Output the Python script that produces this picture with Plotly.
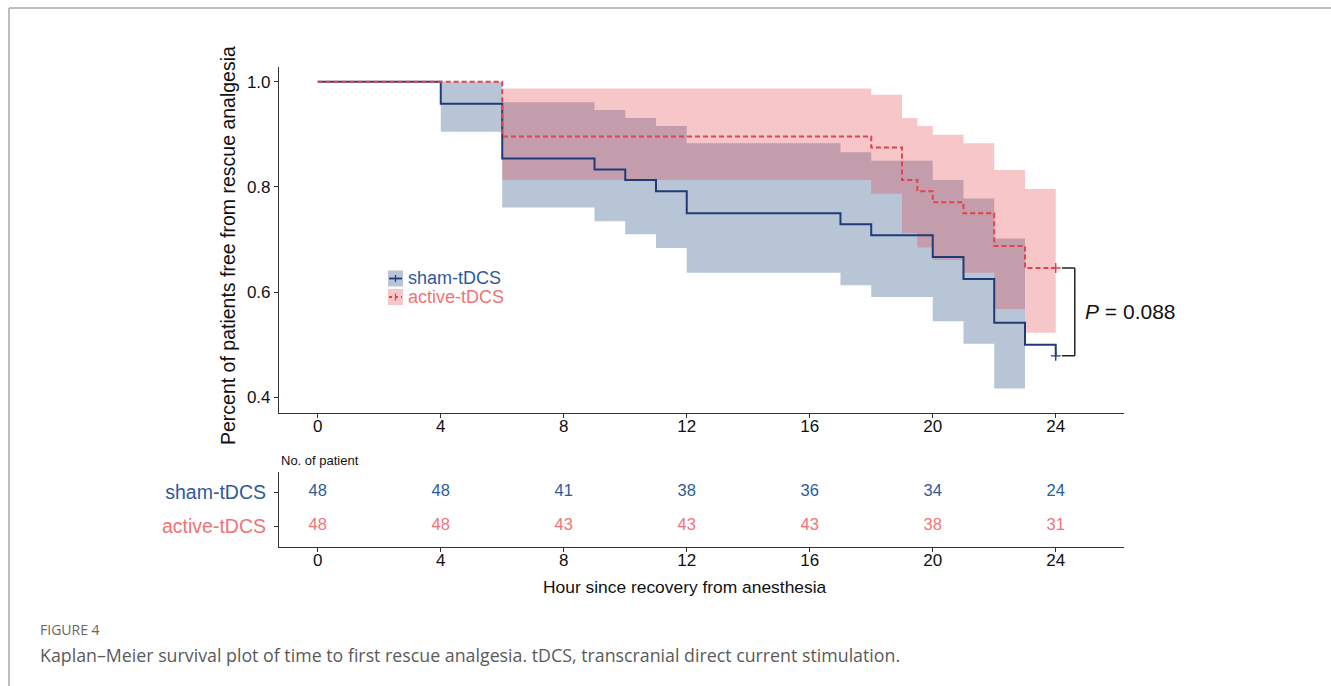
import plotly.graph_objects as go

W, H = 1331, 686

# ---------------- data ----------------
groups = ["sham-tDCS", "active-tDCS"]

sham_times = [0, 4, 6, 9, 10, 11, 12, 17, 18, 20, 21, 22, 23, 24]
sham_surv = [1.0, 0.958, 0.854, 0.833, 0.813, 0.792, 0.750, 0.729, 0.708, 0.667, 0.625, 0.542, 0.500, 0.479]

active_times = [0, 6, 18, 19, 19.5, 20, 21, 22, 23, 24]
active_surv = [1.0, 0.896, 0.875, 0.813, 0.792, 0.771, 0.750, 0.688, 0.646, 0.646]

sham_ci_start = [4, 6, 9, 10, 11, 12, 17, 18, 20, 21, 22]
sham_ci_end = [6, 9, 10, 11, 12, 17, 18, 20, 21, 22, 23]
sham_ci_upper = [1.0, 0.961, 0.946, 0.931, 0.916, 0.883, 0.866, 0.850, 0.813, 0.778, 0.702]
sham_ci_lower = [0.905, 0.761, 0.735, 0.710, 0.684, 0.637, 0.613, 0.591, 0.545, 0.502, 0.417]

active_ci_start = [6, 18, 19, 19.5, 20, 21, 22, 23]
active_ci_end = [18, 19, 19.5, 20, 21, 22, 23, 24]
active_ci_upper = [0.987, 0.975, 0.931, 0.916, 0.899, 0.883, 0.832, 0.796]
active_ci_lower = [0.813, 0.787, 0.712, 0.685, 0.661, 0.637, 0.568, 0.523]

censor_time = [24]
sham_censor = [0.479]
active_censor = [0.646]

risk_times = [0, 4, 8, 12, 16, 20, 24]
sham_risk = [48, 48, 41, 38, 36, 34, 24]
active_risk = [48, 48, 43, 43, 43, 38, 31]

x_ticks = [0, 4, 8, 12, 16, 20, 24]
y_ticks = [0.4, 0.6, 0.8, 1.0]
y_ticktext = ["0.4", "0.6", "0.8", "1.0"]
p_value = "0.088"

# ---------------- styles ----------------
SHAM_LINE = "#1F3B78"
ACT_LINE = "#E3434D"
SHAM_FILL = "rgba(18,62,118,0.30)"
ACT_FILL = "rgba(225,65,72,0.30)"
SHAM_TXT = "#2D5A9B"
ACT_TXT = "#F07377"
AX = "#333333"
FONT = "Liberation Sans, Arial, sans-serif"


def band_xy(starts, ends, lo, hi):
    xs, ys = [], []
    for s, e, h in zip(starts, ends, hi):
        xs += [s, e]
        ys += [h, h]
    for s, e, l in reversed(list(zip(starts, ends, lo))):
        xs += [e, s]
        ys += [l, l]
    xs.append(xs[0])
    ys.append(ys[0])
    return xs, ys


fig = go.Figure()

bx, by = band_xy(sham_ci_start, sham_ci_end, sham_ci_lower, sham_ci_upper)
fig.add_trace(go.Scatter(x=bx, y=by, fill="toself", fillcolor=SHAM_FILL,
                         line=dict(width=0), mode="lines", hoverinfo="skip",
                         showlegend=False))
bx, by = band_xy(active_ci_start, active_ci_end, active_ci_lower, active_ci_upper)
fig.add_trace(go.Scatter(x=bx, y=by, fill="toself", fillcolor=ACT_FILL,
                         line=dict(width=0), mode="lines", hoverinfo="skip",
                         showlegend=False))

fig.add_trace(go.Scatter(x=sham_times, y=sham_surv, mode="lines",
                         line=dict(shape="hv", color=SHAM_LINE, width=2),
                         name=groups[0], showlegend=False))
fig.add_trace(go.Scatter(x=active_times, y=active_surv, mode="lines",
                         line=dict(shape="hv", color=ACT_LINE, width=2, dash="5px,3px"),
                         name=groups[1], showlegend=False))

fig.add_trace(go.Scatter(x=censor_time, y=sham_censor, mode="markers",
                         marker=dict(symbol="cross-thin", size=7,
                                     line=dict(color=SHAM_LINE, width=1.4)),
                         showlegend=False))
fig.add_trace(go.Scatter(x=censor_time, y=active_censor, mode="markers",
                         marker=dict(symbol="cross-thin", size=7,
                                     line=dict(color=ACT_LINE, width=1.4)),
                         showlegend=False))

# risk table
fig.add_trace(go.Scatter(x=risk_times, y=[2] * len(risk_times), xaxis="x2", yaxis="y2",
                         mode="text", text=[str(v) for v in sham_risk],
                         textfont=dict(color=SHAM_TXT, size=16.5, family=FONT),
                         showlegend=False, hoverinfo="skip"))
fig.add_trace(go.Scatter(x=risk_times, y=[1] * len(risk_times), xaxis="x2", yaxis="y2",
                         mode="text", text=[str(v) for v in active_risk],
                         textfont=dict(color=ACT_TXT, size=16.5, family=FONT),
                         showlegend=False, hoverinfo="skip"))

XDOM = [279 / W, 1124.3 / W]
XRANGE = [-1.26, 26.23]
axis_common = dict(showline=True, linecolor=AX, linewidth=1.1, ticks="outside",
                   ticklen=4, tickcolor=AX, tickwidth=1.1, showgrid=False,
                   zeroline=False, tickfont=dict(size=17, color="#111", family=FONT))

shapes = []
annotations = []

# p-value bracket
bxr, bxl = 24.62, 24.2
shapes.append(dict(type="line", xref="x", yref="y", x0=bxr, x1=bxr,
                   y0=sham_censor[0], y1=active_censor[0], line=dict(color="#222", width=1.5)))
shapes.append(dict(type="line", xref="x", yref="y", x0=bxl, x1=bxr,
                   y0=sham_censor[0], y1=sham_censor[0], line=dict(color="#222", width=1.5)))
shapes.append(dict(type="line", xref="x", yref="y", x0=bxl, x1=bxr,
                   y0=active_censor[0], y1=active_censor[0], line=dict(color="#222", width=1.5)))
annotations.append(dict(xref="x", yref="y", x=24.9,
                        y=(sham_censor[0] + active_censor[0]) / 2,
                        text="<i>P</i> = " + p_value, showarrow=False, xanchor="left",
                        yanchor="middle", font=dict(size=21, color="#111", family=FONT)))

# legend (manual keys)
leg = [(groups[0], SHAM_FILL, SHAM_LINE, SHAM_TXT, "solid", 278.5),
       (groups[1], ACT_FILL, ACT_LINE, ACT_TXT, "dot", 297)]
for name, fc, lc, tc, dash, yc in leg:
    x0, x1 = 388, 403
    shapes.append(dict(type="rect", xref="paper", yref="paper",
                       x0=x0 / W, x1=x1 / W, y0=1 - (yc + 8) / H, y1=1 - (yc - 8) / H,
                       fillcolor=fc, line=dict(width=0)))
    shapes.append(dict(type="line", xref="paper", yref="paper",
                       x0=(x0 + 1) / W, x1=(x1 - 1) / W, y0=1 - yc / H, y1=1 - yc / H,
                       line=dict(color=lc, width=1.8, dash=dash)))
    shapes.append(dict(type="line", xref="paper", yref="paper",
                       x0=(x0 + x1) / 2 / W, x1=(x0 + x1) / 2 / W,
                       y0=1 - (yc + 3.5) / H, y1=1 - (yc - 3.5) / H,
                       line=dict(color=lc, width=1.2)))
    annotations.append(dict(xref="paper", yref="paper", x=406 / W, y=1 - yc / H,
                            text=name, showarrow=False, xanchor="left", yanchor="middle",
                            font=dict(size=18, color=tc, family=FONT)))

# y axis title
annotations.append(dict(xref="paper", yref="paper", x=228 / W, y=1 - 246 / H,
                        text="Percent of patients free from rescue analgesia",
                        textangle=-90, showarrow=False, xanchor="center", yanchor="middle",
                        font=dict(size=19.5, color="#111", family=FONT)))

# x axis title (below risk table)
annotations.append(dict(xref="paper", yref="paper", x=684.5 / W, y=1 - 587 / H,
                        text="Hour since recovery from anesthesia", showarrow=False,
                        xanchor="center", yanchor="middle",
                        font=dict(size=17.4, color="#111", family=FONT)))

# risk table header
annotations.append(dict(xref="paper", yref="paper", x=279 / W, y=1 - 460 / H,
                        text="No. of patient", showarrow=False, xanchor="left",
                        yanchor="middle", font=dict(size=13, color="#111", family=FONT)))

# caption
annotations.append(dict(xref="paper", yref="paper", x=38 / W, y=1 - 629 / H,
                        text="FIGURE 4", showarrow=False, xanchor="left", yanchor="middle",
                        font=dict(size=14, color="#666", family="Open Sans, sans-serif")))
annotations.append(dict(xref="paper", yref="paper", x=38 / W, y=1 - 655 / H,
                        text="Kaplan\u2013Meier survival plot of time to first rescue analgesia. "
                             "tDCS, transcranial direct current stimulation.",
                        showarrow=False, xanchor="left", yanchor="middle",
                        font=dict(size=17.8, color="#5A5A5A", family="Open Sans, sans-serif")))

# page frame
shapes.append(dict(type="line", xref="paper", yref="paper", x0=9 / W, x1=1,
                   y0=1 - 8 / H, y1=1 - 8 / H, line=dict(color="#A8A8A8", width=1.5)))
shapes.append(dict(type="line", xref="paper", yref="paper", x0=9 / W, x1=9 / W,
                   y0=0, y1=1 - 8 / H, line=dict(color="#A8A8A8", width=1.5)))

fig.update_layout(
    width=W, height=H, autosize=False,
    margin=dict(l=0, r=0, t=0, b=0),
    paper_bgcolor="white", plot_bgcolor="white",
    font=dict(family=FONT, color="#111"),
    showlegend=False,
    xaxis=dict(domain=XDOM, range=XRANGE, tickvals=x_ticks, anchor="y",
               ticklabelstandoff=-6, **axis_common),
    yaxis=dict(domain=[1 - 412.7 / H, 1 - 66.7 / H], range=[0.371, 1.0285],
               tickvals=y_ticks, ticktext=y_ticktext, anchor="x", **axis_common),
    xaxis2=dict(domain=XDOM, range=XRANGE, tickvals=x_ticks, anchor="y2",
                ticklabelstandoff=-6, **axis_common),
    yaxis2=dict(domain=[1 - 546.7 / H, 1 - 472 / H], range=[0.391, 2.59],
                tickvals=[2, 1],
                ticktext=['<span style="color:%s">%s</span>' % (SHAM_TXT, groups[0]),
                          '<span style="color:%s">%s</span>' % (ACT_TXT, groups[1])],
                anchor="x2", ticklabelstandoff=4,
                **{**axis_common, "tickfont": dict(size=19.5, family=FONT)}),
    shapes=shapes,
    annotations=annotations,
)

fig.write_html("out.html", config={"displayModeBar": False},
               post_script="document.body.style.margin='0px';")
